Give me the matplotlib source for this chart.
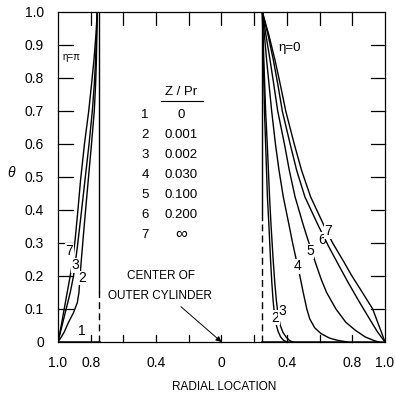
import numpy as np
import matplotlib
matplotlib.use('Agg')
import matplotlib.pyplot as plt

plt.rcParams.update({
    'font.family': ['Liberation Sans', 'DejaVu Sans'],
    'font.size': 10,
    'axes.linewidth': 0.9,
    'axes.edgecolor': 'black',
})

# ── Temperature profiles, eta = pi side (narrow gap, radius 1.0 -> 0.75) ──
theta_pi_7 = [0.0, 0.05, 0.10, 0.16, 0.22, 0.31, 0.40, 0.49, 0.60, 0.70, 0.78, 0.855, 0.93, 1.0]
r_pi_7 = [1.0, 0.980, 0.962, 0.940, 0.918, 0.895, 0.878, 0.862, 0.838, 0.812, 0.795, 0.780, 0.768, 0.760]

theta_pi_3 = [0.0, 0.05, 0.10, 0.15, 0.20, 0.286, 0.38, 0.49, 0.60, 0.70, 0.78, 0.855, 0.93, 1.0]
r_pi_3 = [1.0, 0.975, 0.950, 0.925, 0.905, 0.882, 0.860, 0.835, 0.810, 0.790, 0.778, 0.770, 0.764, 0.760]

theta_pi_2 = [0.0, 0.015, 0.03, 0.058, 0.089, 0.119, 0.149, 0.20, 0.25, 0.35, 0.49, 0.60, 0.70, 0.78, 0.855, 1.0]
r_pi_2 = [1.0, 0.980, 0.962, 0.937, 0.905, 0.882, 0.872, 0.865, 0.857, 0.840, 0.815, 0.795, 0.778, 0.770, 0.765, 0.760]

# ── Temperature profiles, eta = 0 side (wide gap, radius 0.25 -> 1.0) ──
theta_0_2 = [1.0, 0.855, 0.70, 0.60, 0.44, 0.355, 0.25, 0.18, 0.124, 0.08, 0.05, 0.03, 0.015, 0.005, 0.0]
r_0_2 = [0.25, 0.256, 0.263, 0.270, 0.281, 0.290, 0.300, 0.308, 0.316, 0.325, 0.336, 0.348, 0.362, 0.380, 0.400]

theta_0_3 = [1.0, 0.855, 0.70, 0.60, 0.44, 0.355, 0.25, 0.18, 0.124, 0.08, 0.05, 0.03, 0.015, 0.005, 0.0]
r_0_3 = [0.25, 0.259, 0.270, 0.280, 0.294, 0.303, 0.316, 0.326, 0.336, 0.347, 0.360, 0.375, 0.395, 0.415, 0.435]

theta_0_4 = [1.0, 0.855, 0.70, 0.60, 0.52, 0.44, 0.355, 0.30, 0.255, 0.204, 0.15, 0.10, 0.07, 0.043, 0.025, 0.012, 0.005, 0.0]
r_0_4 = [0.25, 0.276, 0.307, 0.330, 0.352, 0.378, 0.413, 0.435, 0.455, 0.478, 0.500, 0.522, 0.540, 0.570, 0.610, 0.660, 0.710, 0.770]

theta_0_5 = [1.0, 0.93, 0.855, 0.78, 0.70, 0.60, 0.52, 0.44, 0.355, 0.30, 0.24, 0.19, 0.15, 0.10, 0.06, 0.035, 0.015, 0.005, 0.0]
r_0_5 = [0.25, 0.272, 0.297, 0.320, 0.344, 0.385, 0.415, 0.450, 0.500, 0.535, 0.575, 0.610, 0.643, 0.700, 0.760, 0.820, 0.880, 0.930, 0.960]

theta_0_6 = [1.0, 0.93, 0.855, 0.78, 0.70, 0.60, 0.52, 0.44, 0.355, 0.29, 0.23, 0.18, 0.12, 0.068, 0.03, 0.0]
r_0_6 = [0.25, 0.285, 0.317, 0.345, 0.372, 0.420, 0.460, 0.510, 0.590, 0.655, 0.720, 0.775, 0.845, 0.908, 0.955, 1.0]

theta_0_7 = [1.0, 0.93, 0.855, 0.78, 0.70, 0.60, 0.52, 0.44, 0.355, 0.30, 0.25, 0.20, 0.15, 0.10, 0.06, 0.03, 0.0]
r_0_7 = [0.25, 0.290, 0.327, 0.360, 0.393, 0.445, 0.490, 0.545, 0.625, 0.680, 0.740, 0.798, 0.862, 0.925, 0.955, 0.978, 1.0]

# inner cylinder wall positions
r_wall_pi = 0.75
r_wall_0 = 0.25

# Z/Pr table
case_ids = ['1', '2', '3', '4', '5', '6', '7']
z_pr = ['0', '0.001', '0.002', '0.030', '0.100', '0.200', '\u221e']

x_tick_pos = [-1.0, -0.8, -0.6, -0.4, -0.2, 0.0, 0.2, 0.4, 0.6, 0.8, 1.0]
x_tick_lab = ['1.0', '0.8', '', '0.4', '', '0', '', '0.4', '', '0.8', '1.0']
y_tick_pos = [0.0, 0.1, 0.2, 0.3, 0.4, 0.5, 0.6, 0.7, 0.8, 0.9, 1.0]
y_tick_lab = ['0', '0.1', '0.2', '0.3', '0.4', '0.5', '0.6', '0.7', '0.8', '0.9', '1.0']

fig = plt.figure(figsize=(3.95, 3.96), dpi=100)
ax = fig.add_axes([0.1468, 0.1364, 0.8278, 0.8333])

LW = 1.0
lab_box = dict(facecolor='white', edgecolor='none', pad=0.3)

# eta = pi side is drawn mirrored (negative axis coordinate)
for th, r in [(theta_pi_7, r_pi_7), (theta_pi_3, r_pi_3), (theta_pi_2, r_pi_2)]:
    ax.plot(-np.array(r), th, color='black', lw=LW, zorder=2)

for th, r in [(theta_0_2, r_0_2), (theta_0_3, r_0_3), (theta_0_4, r_0_4),
              (theta_0_5, r_0_5), (theta_0_6, r_0_6), (theta_0_7, r_0_7)]:
    ax.plot(r, th, color='black', lw=LW, zorder=2)

# curve 1 (Z/Pr = 0): theta = 0 across both gaps
ax.plot([-1.0, -r_wall_pi], [0, 0], color='black', lw=1.8, zorder=2)
ax.plot([r_wall_0, 1.0], [0, 0], color='black', lw=1.8, zorder=2)

# inner cylinder walls: solid upper part, dashed lower part
ax.plot([-r_wall_pi, -r_wall_pi], [0.15, 1.0], color='black', lw=LW, zorder=2)
ax.plot([-r_wall_pi, -r_wall_pi], [0.0, 0.15], color='black', lw=LW,
        ls=(0, (5, 3)), zorder=2)
ax.plot([r_wall_0, r_wall_0], [0.37, 1.0], color='black', lw=LW, zorder=2)
ax.plot([r_wall_0, r_wall_0], [0.0, 0.37], color='black', lw=LW,
        ls=(0, (5, 3)), zorder=2)

# curve labels
for s, th, t in [(-0.930, 0.276, '7'), (-0.893, 0.232, '3'), (-0.850, 0.194, '2'),
                 (-0.855, 0.032, '1')]:
    ax.text(s, th, t, fontsize=10, ha='center', va='center', bbox=lab_box, zorder=3)
for s, th, t in [(0.330, 0.074, '2'), (0.372, 0.094, '3'), (0.466, 0.229, '4'),
                 (0.541, 0.275, '5'), (0.613, 0.310, '6'), (0.655, 0.335, '7')]:
    ax.text(s, th, t, fontsize=10, ha='center', va='center', bbox=lab_box, zorder=3)

# side annotations
ax.text(-0.915, 0.864, '\u03b7=\u03c0', fontsize=7, ha='center', va='center')
ax.text(0.419, 0.891, '\u03b7=0', fontsize=9.5, ha='center', va='center')

# Z/Pr table
ax.text(-0.245, 0.757, 'Z / Pr', fontsize=9.5, ha='center', va='center')
ax.plot([-0.37, -0.115], [0.731, 0.731], color='black', lw=0.8)
for i, (cid, val) in enumerate(zip(case_ids, z_pr)):
    yy = 0.688 - 0.0605 * i
    ax.text(-0.468, yy, cid, fontsize=9.5, ha='center', va='center')
    ax.text(-0.248, yy, val, fontsize=9.5 if i < 6 else 12, ha='center', va='center')

ax.text(-0.37, 0.201, 'CENTER OF', fontsize=8.5, ha='center', va='center')
ax.text(-0.376, 0.139, 'OUTER CYLINDER', fontsize=8.5, ha='center', va='center')
ax.annotate('', xy=(0.0, 0.0), xytext=(-0.248, 0.107),
            arrowprops=dict(arrowstyle='-|>', color='black', lw=0.7,
                            mutation_scale=8, shrinkA=0, shrinkB=0))

# axes
ax.set_xlim(-1.0, 1.0)
ax.set_ylim(0.0, 1.0)
ax.set_xticks(x_tick_pos)
ax.set_xticklabels(x_tick_lab, fontsize=10)
ax.set_yticks(y_tick_pos)
ax.set_yticklabels(y_tick_lab, fontsize=10)
ax.tick_params(axis='y', length=0, pad=10)
ax.tick_params(axis='x', length=0, pad=10)

# inward tick marks drawn along each frame edge (axes-fraction lengths)
xt = ax.get_xaxis_transform()
yt = ax.get_yaxis_transform()
for xv in x_tick_pos[1:-1]:
    ax.plot([xv, xv], [0.0, 0.022], color='black', lw=0.9, transform=xt, clip_on=False)
    ax.plot([xv, xv], [1.0, 0.96], color='black', lw=0.9, transform=xt, clip_on=False)
for yv in y_tick_pos[1:-1]:
    ax.plot([0.0, 0.046], [yv, yv], color='black', lw=0.9, transform=yt, clip_on=False)
    ax.plot([1.0, 0.957], [yv, yv], color='black', lw=0.9, transform=yt, clip_on=False)

ax.set_xlabel('RADIAL LOCATION', fontsize=8.5)
ax.xaxis.set_label_coords(0.508, -0.118)
ax.set_ylabel('\u03b8', fontsize=10, rotation=0, style='italic')
ax.yaxis.set_label_coords(-0.145, 0.49)

fig.savefig('out.png', dpi=100, facecolor='white')
